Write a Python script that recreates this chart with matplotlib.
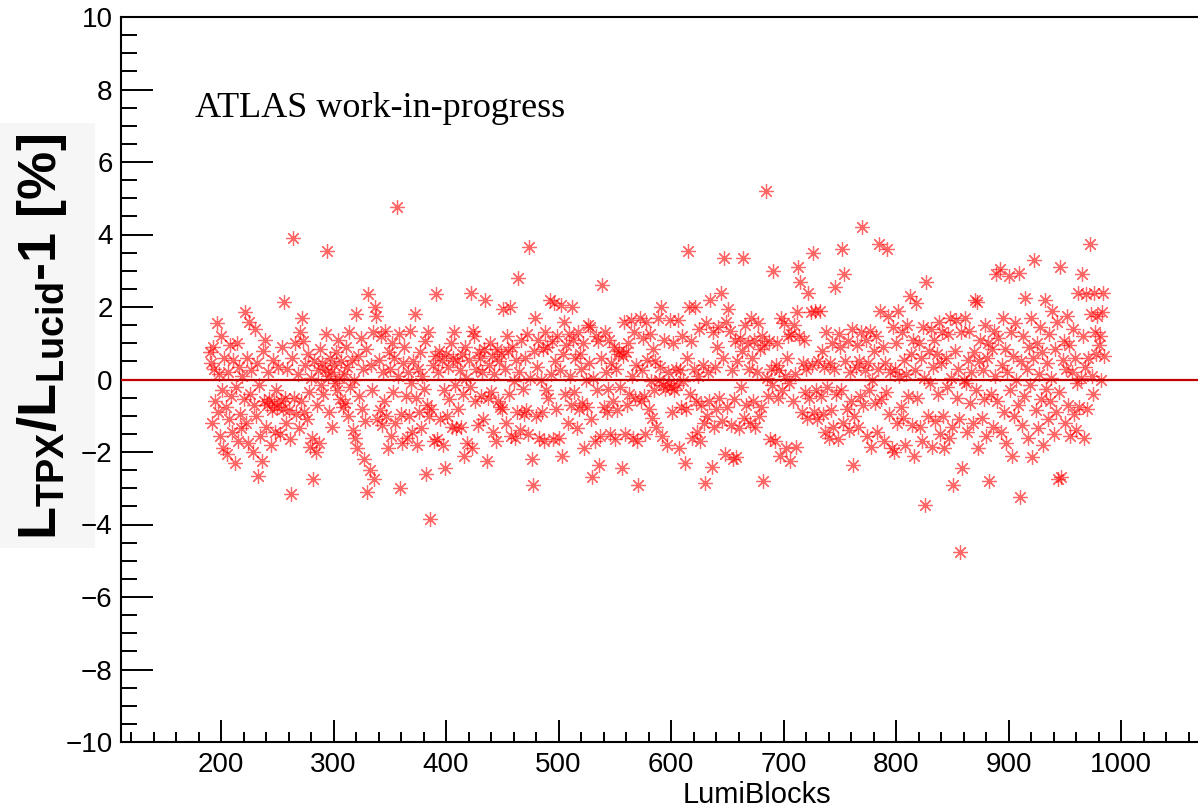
import numpy as np
import matplotlib
matplotlib.use("Agg")
from matplotlib import pyplot as plt
from matplotlib.ticker import MultipleLocator
from matplotlib.patches import Rectangle

plt.rcParams['font.family'] = ['Liberation Sans', 'DejaVu Sans']
plt.rcParams['mathtext.fontset'] = 'custom'
plt.rcParams['mathtext.rm'] = 'Liberation Sans'
plt.rcParams['mathtext.bf'] = 'Liberation Sans:bold'

# relative deviation TPX vs Lucid [%], one value per lumiblock starting at LB 190
first_lb = 190
dev_190_289 = [
    0.75, 0.45, -1.2, 0.9, 0.3, -0.6, 1.55, -0.9, 0.15, -1.55, 1.2, -0.3, -1.9, 0.6, -0.75, -2.05, 0.2, -1.1, 0.95, -0.45,
    -1.45, 0.55, -2.3, -0.2, 1.0, -1.7, 0.35, -0.95, -1.35, 0.1, -0.55, 1.85, -1.2, 0.6, -1.75, 1.6, -0.4, 0.25, -2.0, -0.7,
    1.4, -1.0, 0.45, -2.65, -0.15, -1.55, -2.25, 0.8, -0.6, 1.1, -1.3, -0.7, 0.2, -0.55, -1.8, -0.85, 0.55, -0.65, -1.45, -0.3,
    -0.75, 0.35, -1.5, -0.6, 0.9, -0.8, 2.15, -0.5, -1.2, 0.3, -0.85, -1.65, -3.15, 0.6, 3.9, -0.5, 1.0, -0.95, 0.15, -1.35,
    1.3, -0.6, 1.7, 1.05, -0.9, 0.4, -1.1, 0.7, -0.35, -1.85, 0.05, -1.6, -2.75, 0.5, -2.0, -0.7, 0.25, -1.75, 0.85, -0.15,
]
dev_290_389 = [
    0.45, -0.4, 0.3, 1.25, 3.55, 0.1, -0.9, 0.6, 0.2, -1.3, 0.4, -0.1, 0.75, -0.3, 1.1, 0.05, -0.55, 0.5, -0.75, 0.15,
    -0.65, 0.9, 0.35, -1.0, 1.3, -0.2, 0.55, -1.4, 0.0, -1.6, 1.8, -1.9, 0.65, -0.45, 1.15, -0.8, 0.3, -2.2, -1.15, 0.85,
    -3.1, 2.35, -2.5, 0.4, -0.3, 1.3, -2.75, 2.0, 1.75, -1.1, 0.55, -0.85, 1.2, -1.25, 0.2, -0.6, 1.35, -1.0, -1.9, 0.75,
    0.3, -1.55, 1.0, -0.35, 0.6, -1.2, 4.75, 0.1, 1.25, -3.0, -0.95, -1.75, 0.45, 0.9, -0.45, -1.6, 0.2, -1.0, 1.35, -0.1,
    -1.45, 0.5, 1.8, -0.5, -1.8, 0.3, -0.9, 0.75, -1.35, 0.1, -0.25, 1.05, -2.6, -0.7, 1.3, -1.0, -3.85, -0.8, 0.4, -1.7,
]
dev_390_489 = [
    0.65, 2.35, -1.65, 0.2, 0.8, -1.1, 0.55, -1.8, -0.3, -2.45, 0.7, -1.0, 0.35, -0.55, 1.0, -1.3, 0.6, 1.3, -0.15, -1.35,
    0.5, -0.8, 0.25, -1.3, 0.7, -0.4, -2.1, 0.9, 0.05, -1.75, 0.55, -0.2, 2.4, -1.9, 1.35, 1.2, -0.6, 0.3, -1.25, 0.75,
    0.6, -0.45, 0.2, -1.1, 0.85, 2.2, -2.25, -0.5, 0.4, 1.0, -0.35, 0.65, -1.45, 0.15, -1.7, 0.85, -0.6, 0.5, -0.75, 0.7,
    -0.8, 1.95, 0.3, -1.2, 1.2, 0.8, -0.4, 2.0, -1.55, 0.9, -0.05, -1.6, 0.55, -0.9, 2.8, 0.2, -1.4, 1.1, -0.25, -0.95,
    0.6, -0.85, 1.25, -1.5, 3.65, 0.05, -2.2, -2.9, 0.8, 1.7, -1.0, 0.35, 1.1, -1.6, 0.0, -0.9, 0.85, -1.7, 1.3, -0.3,
]
dev_490_589 = [
    0.9, -0.5, 2.2, 0.15, 1.05, -1.65, 2.1, 0.5, -0.8, 1.2, -1.6, 0.25, 2.05, -2.1, 0.7, 1.6, -0.4, 0.95, -1.2, 1.25,
    0.1, -0.7, 2.0, 1.1, -0.35, 0.6, -1.35, 1.3, -0.8, 0.7, 0.3, -0.65, 1.0, -1.9, 0.0, -0.75, 1.5, 0.45, 1.45, -1.1,
    -2.7, 0.05, -1.7, 1.2, -0.3, 1.05, -2.35, -1.55, 0.6, 2.6, -0.75, 1.3, 0.2, -0.9, -0.25, 1.1, -1.5, 0.45, -0.6, 0.9,
    -1.65, 0.3, -0.85, 0.7, 0.8, -0.2, -2.45, 0.65, 1.6, -1.5, 0.75, -0.7, 1.0, -0.4, 1.65, 0.1, -1.6, 1.3, -0.5, 0.4,
    -1.7, -2.9, 1.7, -0.6, 0.25, 1.15, -0.45, -1.5, 1.6, 0.55, -0.8, 1.25, -0.05, -1.05, 0.85, -0.3, 0.5, -1.3, 1.7, 0.0,
]
dev_590_689 = [
    0.35, 2.0, -1.55, -0.15, 1.1, -0.25, -1.8, 0.2, -0.1, 1.65, -0.2, -0.9, 1.0, -0.3, 0.3, -0.15, 1.65, -1.9, 0.25, -0.75,
    1.2, -0.05, -2.3, -0.8, 0.6, 3.55, 2.0, -0.4, 1.05, -1.6, 0.3, 2.0, -0.6, -1.45, 0.1, 1.4, -1.7, -0.7, 0.4, -1.2,
    -2.85, 1.55, -1.0, 0.2, -0.6, 2.2, -2.4, 1.3, -1.3, 0.35, -0.8, 0.9, 1.45, -0.5, 2.4, -1.15, 0.6, 3.35, -2.05, 1.6,
    -0.75, 1.95, 1.35, -1.25, 0.25, -2.2, -0.55, 1.05, -2.15, 0.5, -1.35, 1.15, -0.2, 0.8, 3.35, -1.05, 1.5, -0.7, 1.0, 0.3,
    -1.2, 1.7, 0.6, -0.6, 1.1, -1.3, 0.2, 1.55, -1.0, 0.85, -0.75, 1.2, -2.8, 0.95, 5.2, 0.05, -0.45, 1.05, -1.65, 0.3,
]
dev_690_789 = [
    -0.15, 3.0, -1.7, 0.4, 1.0, -0.5, 0.25, -2.1, 1.7, -0.3, 1.55, 0.1, -1.9, 0.6, 1.2, -0.1, -2.25, 1.25, -0.6, 1.5,
    0.15, -1.85, 1.85, 3.1, 1.2, 2.7, -0.9, 0.45, 1.1, -0.35, 0.3, -1.05, 2.4, -0.5, 1.85, 0.4, 3.5, -0.9, 1.9, -0.3,
    -1.1, 0.5, 1.9, -0.45, 0.8, -0.95, 0.35, -1.45, 1.3, -0.2, -1.6, 0.45, -0.85, 1.0, -1.3, 0.3, 2.55, -0.4, -1.65, 1.25,
    0.9, -0.3, 3.6, -1.2, 2.9, 0.5, -0.8, 1.05, -1.4, 0.2, -0.6, 1.4, -2.35, -1.0, 0.35, 0.95, -1.3, 0.5, -0.45, 1.3,
    4.2, -0.7, 0.25, 1.1, -1.55, 0.45, -0.3, 1.35, -1.85, 0.0, 0.8, -0.65, 1.2, -1.45, 0.3, 3.75, 1.9, -0.55, 0.9, -1.7,
]
dev_790_889 = [
    0.45, -0.35, 3.6, 1.75, -0.95, 0.2, -1.9, 1.45, -2.0, 0.3, 1.0, -1.2, 1.9, 0.1, -0.75, 1.3, -1.05, 0.55, -1.8, 0.15,
    1.5, -0.45, 2.3, 0.7, -1.25, 1.1, -2.1, 0.25, 2.1, -0.5, 1.0, -1.3, 0.6, -1.7, 1.45, 0.05, -3.45, 2.7, -1.0, 0.8,
    -0.1, 1.4, -1.85, 0.35, 1.1, -1.15, 0.7, -0.4, 1.6, -1.5, 0.45, 1.3, -1.0, -1.9, 0.6, -0.2, 1.25, -1.6, 1.7, 0.05,
    -1.3, -2.9, 0.8, 1.65, -0.5, 0.3, -1.1, -4.75, 1.3, -2.45, 0.0, 1.7, -0.1, -1.45, 0.55, 1.35, -0.65, 0.2, -1.2, 0.75,
    2.2, -0.3, 2.15, -1.9, 0.5, 1.1, -1.05, 0.25, -0.55, 1.5, -1.55, 0.6, 1.0, -2.8, -0.4, 0.85, -1.3, 1.35, 0.1, 2.9,
]
dev_890_985 = [
    -0.6, 1.15, 3.05, -1.45, 0.4, 1.7, -0.9, 0.85, -1.75, 0.2, 2.85, -0.3, 1.3, -2.1, 0.65, -1.0, 1.55, 0.0, -0.7, 2.95,
    -3.25, 0.5, -1.25, 1.2, -0.45, 2.25, 0.3, -1.6, 0.9, -0.15, 1.7, -2.15, 0.6, 3.3, -0.85, 1.0, -1.35, 0.15, 1.45, -0.55,
    0.75, -1.8, 2.2, -0.25, 0.45, -1.1, 1.25, -0.6, 0.05, 1.9, -1.5, 0.85, -0.9, 1.6, -2.75, -0.35, 3.1, -2.7, 0.55, 1.05,
    -1.2, 0.3, 1.75, -0.7, 0.95, -1.55, 0.2, 1.4, -0.95, 0.6, -1.4, -0.1, 2.4, -0.75, 0.05, 2.9, 1.2, -1.6, 0.35, 2.35,
    -0.8, 0.6, 3.75, 1.8, 0.1, -0.4, 2.4, 1.3, 0.7, 1.75, 0.95, 1.2, 0.0, 1.85, 2.4, 0.65,
]

dev = np.array(dev_190_289 + dev_290_389 + dev_390_489 + dev_490_589
               + dev_590_689 + dev_690_789 + dev_790_889 + dev_890_985)
lumiblocks = np.arange(first_lb, first_lb + len(dev))

fig = plt.figure(figsize=(11.98, 8.09), dpi=100)
# faint grey panel behind the y title (pasted-in label in the original)
fig.patches.append(Rectangle((0, 1 - 548 / 809), 95 / 1198, 425 / 809,
                             transform=fig.transFigure, facecolor='#f6f6f6',
                             edgecolor='none', zorder=-5))

ax = fig.add_axes([121 / 1198, 67 / 809, 1089 / 1198, 725 / 809])
ax.patch.set_alpha(0)

ax.plot(lumiblocks, dev, linestyle='none', marker=(8, 2, 0), markersize=10.5,
        markeredgewidth=0.9, color='red', alpha=0.6, zorder=2)
ax.axhline(0, color='#c00000', lw=1.6, zorder=3)

# frame is cut by the right edge of the picture
ax.set_xlim(111.1, 111.1 + 1089 / 1.125)
ax.set_ylim(-10, 10)

ax.xaxis.set_major_locator(MultipleLocator(100))
ax.xaxis.set_minor_locator(MultipleLocator(20))
ax.yaxis.set_major_locator(MultipleLocator(2))
ax.yaxis.set_minor_locator(MultipleLocator(0.5))
ax.tick_params(axis='x', which='major', direction='in', length=16, width=1.4, labelsize=20, pad=7)
ax.tick_params(axis='x', which='minor', direction='in', length=7, width=1.4)
ax.tick_params(axis='y', which='major', direction='in', length=23, width=1.4, labelsize=20, pad=6)
ax.tick_params(axis='y', which='minor', direction='in', length=11.5, width=1.4)
ax.tick_params(top=False, right=False, which='both')
ax.set_xticks([200, 300, 400, 500, 600, 700, 800, 900, 1000])
ax.set_xticklabels(['200', '300', '400', '500', '600', '700', '800', '900', '1000'])

for s in ['left', 'bottom', 'top']:
    ax.spines[s].set_linewidth(1.5)
ax.spines['right'].set_visible(False)

fig.text(757 / 1198, 1 - 795 / 809, 'LumiBlocks', fontsize=21, ha='center', va='center')
fig.text(195 / 1198, 1 - 117 / 809, 'ATLAS work-in-progress', fontsize=26,
         family='Liberation Serif', ha='left', va='baseline')
fig.text(42 / 1198, 1 - 337 / 809,
         r'$\mathbf{L}_{\mathbf{TPX}}\mathbf{/L}_{\mathbf{Lucid}}$-1 [%]',
         fontsize=39, fontweight='bold', rotation=90, ha='center', va='center')

fig.savefig('out.png', dpi=100)
